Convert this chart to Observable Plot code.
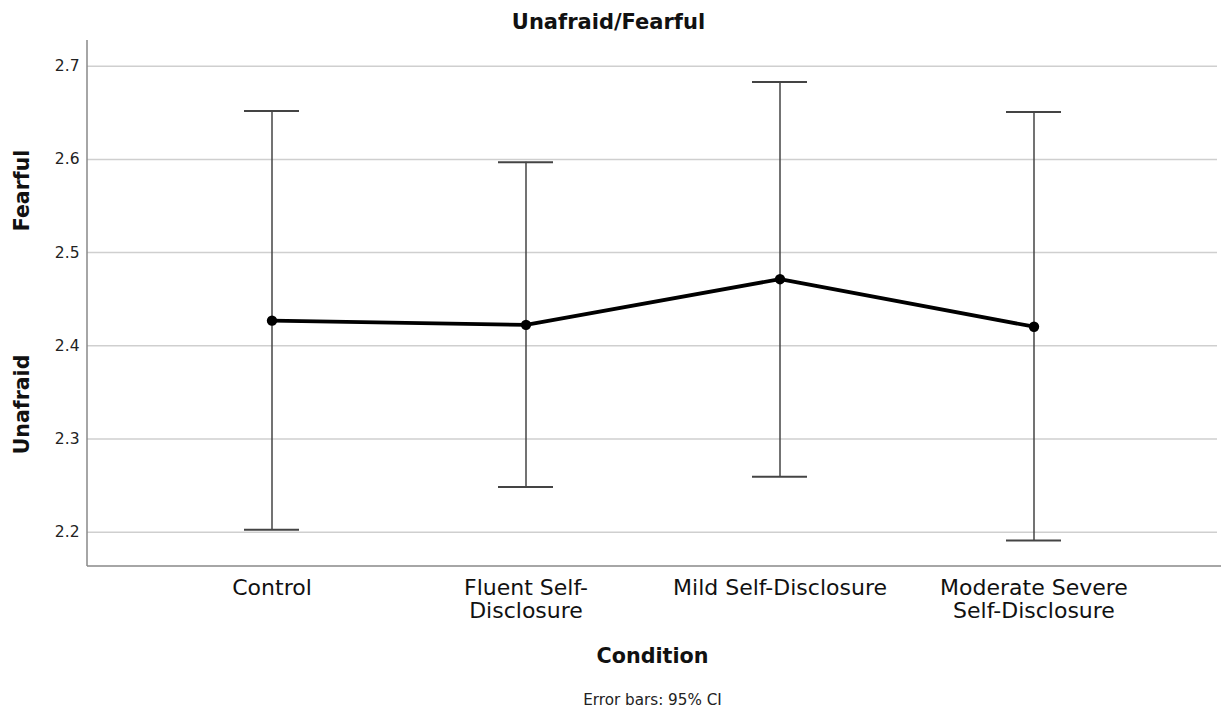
<!DOCTYPE html>
<html>
<head>
<meta charset="utf-8">
<script src="https://cdn.jsdelivr.net/npm/d3@7"></script>
<script src="https://cdn.jsdelivr.net/npm/@observablehq/plot@0.6"></script>
<style>
  html, body { margin: 0; padding: 0; background: #fff; }
  #chart svg { display: block; }
</style>
</head>
<body>
<div id="chart"></div>
<script>
// ---- data ----
const categories = ["Control", "Fluent Self-Disclosure", "Mild Self-Disclosure", "Moderate Severe Self-Disclosure"];
const tickLabels = ["Control", "Fluent Self-\nDisclosure", "Mild Self-Disclosure", "Moderate Severe\nSelf-Disclosure"];
const means = [2.427, 2.4225, 2.4715, 2.4205];
const ciLow = [2.2025, 2.2485, 2.2595, 2.191];
const ciHigh = [2.652, 2.597, 2.683, 2.651];
const yTicks = [2.2, 2.3, 2.4, 2.5, 2.6, 2.7];
const yDomain = [2.1632, 2.7276];
const title = "Unafraid/Fearful";
const xLabel = "Condition";
const yLabelHigh = "Fearful";
const yLabelLow = "Unafraid";
const caption = "Error bars: 95% CI";

const rows = categories.map((c, i) => ({cat: c, mean: means[i], lo: ciLow[i], hi: ciHigh[i]}));
const labelOf = new Map(categories.map((c, i) => [c, tickLabels[i]]));

const font = "'DejaVu Sans', 'Liberation Sans', sans-serif";

// custom mark: left + bottom axis lines
const axisLines = (index, scales, values, dims) => {
  const g = d3.create("svg:g").attr("stroke", "#888").attr("stroke-width", 1.5);
  const x0 = dims.marginLeft, x1 = dims.width - dims.marginRight;
  const y0 = dims.marginTop, y1 = dims.height - dims.marginBottom;
  g.append("line").attr("x1", x0).attr("x2", x0).attr("y1", y0).attr("y2", y1);
  g.append("line").attr("x1", x0).attr("x2", x1 + 4).attr("y1", y1).attr("y2", y1);
  return g.node();
};

const txt = {lineAnchor: "middle", textAnchor: "middle", fill: "#111"};

const chart = Plot.plot({
  width: 1221,
  height: 715,
  marginLeft: 87,
  marginRight: 4,
  marginTop: 40,
  marginBottom: 149,
  style: {fontFamily: font, background: "#fff", color: "#222"},
  x: {type: "band", domain: categories, paddingInner: 0.7835, paddingOuter: 0.616, label: null},
  y: {domain: yDomain, label: null},
  marks: [
    Plot.gridY(yTicks, {stroke: "#cfcfcf", strokeOpacity: 1, strokeWidth: 1.5}),
    Plot.axisY(yTicks, {tickSize: 0, tickPadding: 8, fontSize: 15.5, tickFormat: d3.format(".1f"), label: null, fill: "#222"}),
    Plot.axisX({tickSize: 0, tickPadding: 12, fontSize: 22, tickFormat: d => labelOf.get(d), label: null, lineHeight: 1.05, fill: "#111"}),
    axisLines,
    Plot.ruleX(rows, {x: "cat", y1: "lo", y2: "hi", stroke: "#444", strokeWidth: 1.5}),
    Plot.tickY(rows, {x: "cat", y: "lo", stroke: "#444", strokeWidth: 2}),
    Plot.tickY(rows, {x: "cat", y: "hi", stroke: "#444", strokeWidth: 2}),
    Plot.line(rows, {x: "cat", y: "mean", stroke: "#000", strokeWidth: 3.8}),
    Plot.dot(rows, {x: "cat", y: "mean", r: 5.2, fill: "#000", stroke: "none"}),
    // texts
    Plot.text([title], {...txt, frameAnchor: "top", dy: -18, dx: -44, fontSize: 21, fontWeight: "bold"}),
    Plot.text([xLabel], {...txt, frameAnchor: "bottom", dy: 90, fontSize: 20.7, fontWeight: "bold"}),
    Plot.text([caption], {...txt, frameAnchor: "bottom", dy: 134, fontSize: 15.2, fill: "#222"}),
    Plot.text([yLabelHigh], {...txt, frameAnchor: "left", dx: -65, dy: -113, rotate: -90, fontSize: 20.5, fontWeight: "bold"}),
    Plot.text([yLabelLow], {...txt, frameAnchor: "left", dx: -65, dy: 101, rotate: -90, fontSize: 20.5, fontWeight: "bold"})
  ]
});

document.getElementById("chart").appendChild(chart);
</script>
</body>
</html>
